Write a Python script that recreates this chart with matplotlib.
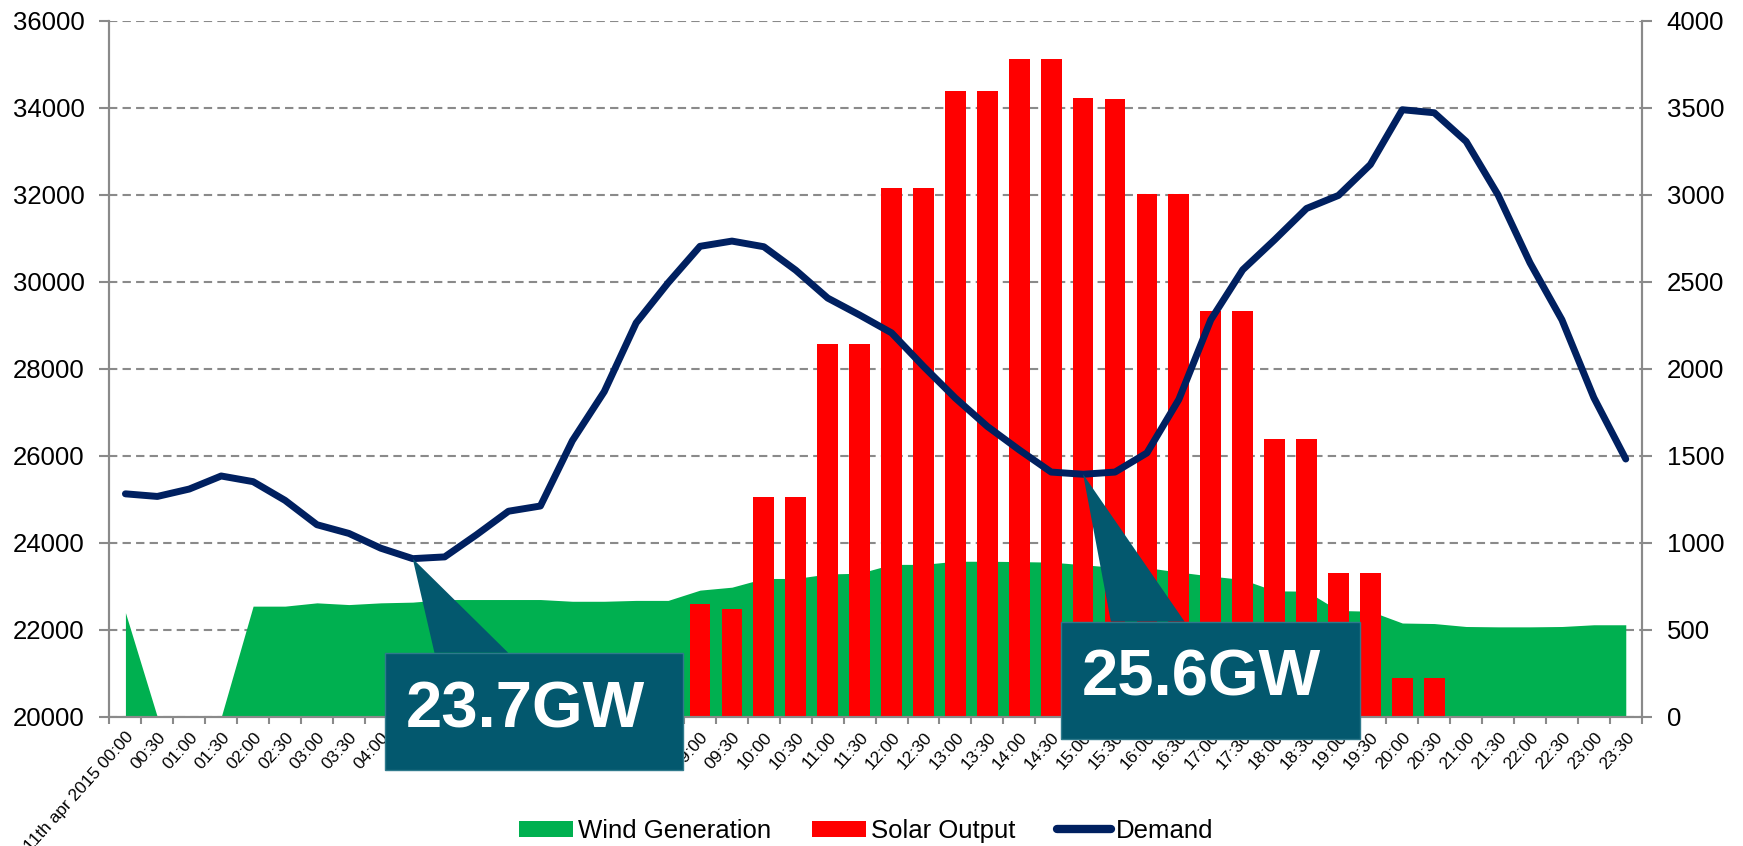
import matplotlib
matplotlib.use("Agg")
import matplotlib.pyplot as plt
import numpy as np
from matplotlib.patches import Rectangle, Polygon
from matplotlib.lines import Line2D
from matplotlib.patches import Patch

plt.rcParams['font.family'] = ['Liberation Sans', 'DejaVu Sans']

# half-hour slots for 11 Apr 2015
times = ["%02d:%02d" % (h, m) for h in range(24) for m in (0, 30)]
labels = ["11th apr 2015 00:00"] + times[1:]

demand = [25130, 25070, 25240, 25540, 25410, 24980, 24420, 24220, 23880, 23640,
          23680, 24190, 24730, 24850, 26350, 27480, 29060, 29980, 30820, 30940,
          30810, 30270, 29630, 29240, 28830, 28060, 27330, 26680, 26140, 25630,
          25580, 25630, 26070, 27300, 29130, 30280, 30970, 31690, 31990, 32700,
          33960, 33890, 33230, 32000, 30440, 29130, 27340, 25930]

wind = [600, 0, 0, 0, 637, 637, 656, 646, 656, 660,
        675, 675, 675, 675, 665, 665, 670, 670, 729, 746,
        796, 796, 822, 826, 877, 877, 895, 895, 893, 890,
        875, 860, 858, 833, 810, 790, 725, 723, 612, 608,
        540, 537, 520, 518, 518, 520, 530, 530]

solar = [0, 0, 0, 0, 0, 0, 0, 0, 0, 0,
         0, 0, 0, 0, 0, 0, 0, 0, 650, 620,
         1265, 1265, 2145, 2145, 3040, 3040, 3600, 3600, 3780, 3780,
         3560, 3550, 3005, 3005, 2335, 2335, 1595, 1595, 830, 830,
         222, 222, 0, 0, 0, 0, 0, 0]

# callouts: (slot index, text, box left, box top)
callouts = [(9, "23.7GW", 8.13, 21477), (30, "25.6GW", 29.32, 22193)]

GREEN = '#00B050'
RED = '#FF0000'
NAVY = '#002060'
TEAL = '#03586E'
GREY = '#8a8a8a'

x = np.arange(len(labels))

fig = plt.figure(figsize=(17.43, 8.46), dpi=100)
ax = fig.add_axes([0.0628, 0.1525, 0.8791, 0.8227])
ax2 = ax.twinx()

# secondary axis: wind area + solar bars, grid behind
ax2.fill_between(x, wind, 0, color=GREEN, linewidth=0, zorder=1)
ax2.bar(x, solar, width=0.65, color=RED, zorder=2)
ax2.set_ylim(0, 4000)
ax2.set_yticks(np.arange(0, 4001, 500))
ax2.set_axisbelow(True)
ax2.yaxis.grid(True, color=GREY, linestyle=(0, (4, 2.5)), linewidth=1.5)

# primary axis on top: demand
ax.set_zorder(ax2.get_zorder() + 1)
ax.patch.set_visible(False)
ax.plot(x, demand, color=NAVY, linewidth=5, solid_joinstyle='round',
        solid_capstyle='round', zorder=5)
ax.set_ylim(20000, 36000)
ax.set_yticks(np.arange(20000, 36001, 2000))
ax.set_xlim(-0.5, len(labels) - 0.5)

ax.set_xticks(x)
ax.set_xticklabels(labels, rotation=48, ha='right', va='top',
                   rotation_mode='anchor', fontsize=12.5)
ax.set_xticks(np.arange(-0.5, len(labels), 1), minor=True)
ax.tick_params(axis='x', which='major', length=0, pad=9)
ax.tick_params(axis='x', which='minor', length=5, width=1.5, color=GREY)
ax.tick_params(axis='y', length=7, width=1.5, color=GREY, labelsize=18.5, pad=11)
ax2.tick_params(axis='y', length=7, width=1.5, color=GREY, labelsize=18.5, pad=11)

for a in (ax, ax2):
    a.spines['top'].set_visible(False)
    for s in ('left', 'right', 'bottom'):
        a.spines[s].set_color(GREY)
        a.spines[s].set_linewidth(1.5)

# callout boxes with pointers
box_w, box_h = 9.34, 2690
for idx, txt, bl, bt in callouts:
    ax.add_patch(Rectangle((bl, bt - box_h), box_w, box_h, facecolor=TEAL,
                           edgecolor='#2f7a8c', linewidth=1, zorder=20, clip_on=False))
    ax.add_patch(Polygon([(idx, demand[idx]), (bl + 1.55, bt), (bl + 3.86, bt)],
                         closed=True, facecolor=TEAL, edgecolor='none',
                         zorder=20, clip_on=False))
    ax.text(bl + 0.64, bt - 1710, txt, color='white', fontsize=47, fontweight='bold',
            ha='left', va='baseline', zorder=21, clip_on=False)

handles = [Patch(facecolor=GREEN), Patch(facecolor=RED),
           Line2D([0], [0], color=NAVY, linewidth=6, solid_capstyle='round')]
fig.legend(handles, ["Wind Generation", "Solar Output", "Demand"], ncol=3,
           loc='center', bbox_to_anchor=(0.497, 0.018), frameon=False,
           fontsize=18.5, handlelength=2.1, handleheight=0.6,
           handletextpad=0.2, columnspacing=1.6)

fig.savefig("out.png", dpi=100)
